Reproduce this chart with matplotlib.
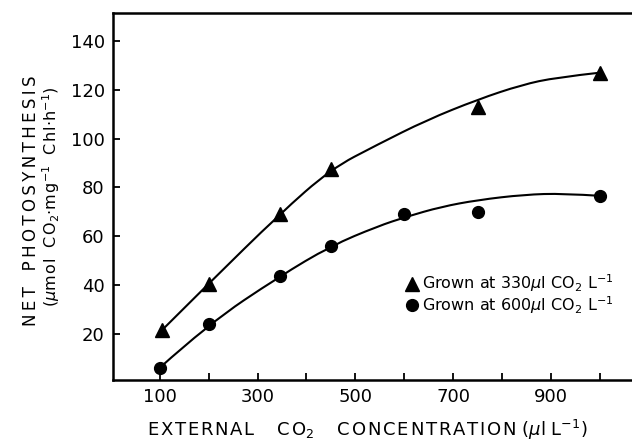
import numpy as np
import matplotlib.pyplot as plt
from matplotlib.path import Path
from matplotlib.patches import PathPatch

# values
x_330 = [105, 200, 345, 450, 750, 1000]
y_330 = [21.5, 40.5, 69, 87.5, 113, 127]

x_600 = [100, 200, 345, 450, 600, 750, 1000]
y_600 = [6, 24, 43.5, 56, 69, 70, 76.5]

# the hand drawn curves, read at a few places
curve_330_x = [105, 200, 345, 450, 545, 645, 750, 840, 910, 1000]
curve_330_y = [21.5, 40.5, 69, 87.5, 97.5, 107.5, 116, 122, 125, 127]
curve_600_x = [100, 200, 345, 450, 545, 605, 675, 750, 845, 925, 1000]
curve_600_y = [6, 24, 43.5, 56, 64, 68, 72, 74.8, 77, 77.5, 76.5]

xticks = list(range(100, 1001, 100))
xlabels = ["100", "", "300", "", "500", "", "700", "", "900", ""]
yticks = [20, 40, 60, 80, 100, 120, 140]

plt.rcParams['font.family'] = ['DejaVu Sans']
plt.rcParams['mathtext.fontset'] = 'dejavusans'

HAIR = '\u200a'
THIN = '\u2009'


def spread(word, sp):
    return sp.join(word)


def smooth_path(xs, ys):
    # quadratic bezier pieces: read points as controls, midpoints as knots
    pts = list(zip(xs, ys))
    verts = [pts[0]]
    codes = [Path.MOVETO]
    for i in range(1, len(pts) - 1):
        nx = (pts[i][0] + pts[i + 1][0]) / 2
        ny = (pts[i][1] + pts[i + 1][1]) / 2
        if i == len(pts) - 2:
            nx, ny = pts[-1]
        verts += [pts[i], (nx, ny)]
        codes += [Path.CURVE3, Path.CURVE3]
    return Path(verts, codes)


fig = plt.figure(figsize=(6.32, 4.43), dpi=100)
ax = fig.add_axes([0.179, 0.142, 0.821, 0.829])

for cx, cy in [(curve_330_x, curve_330_y), (curve_600_x, curve_600_y)]:
    ax.add_patch(PathPatch(smooth_path(cx, cy), fill=False, ec='black',
                           lw=1.5, zorder=2))

ax.plot(x_330, y_330, '^', color='black', ms=10.5, zorder=3,
        label=r'Grown at 330$\mu$l CO$_2$ L$^{-1}$')
ax.plot(x_600, y_600, 'o', color='black', ms=8.5, zorder=3,
        label=r'Grown at 600$\mu$l CO$_2$ L$^{-1}$')

ax.set_xlim(5, 1065)
ax.set_ylim(1, 151.5)
ax.set_xticks(xticks)
ax.set_xticklabels(xlabels)
ax.set_yticks(yticks)
ax.tick_params(direction='in', length=5, width=1.3, labelsize=13, pad=6)
ax.spines['right'].set_visible(False)
for s in ['left', 'bottom', 'top']:
    ax.spines[s].set_linewidth(1.8)

xl = (spread('EXTERNAL', HAIR) + '    C' + HAIR + 'O$_2$    '
      + spread('CONCENTRATION', HAIR) + r' ($\mu$l L$^{-1}$)')
fig.text(0.581, 0.03, xl, ha='center', va='center', fontsize=13)

yl1 = spread('NET', THIN) + '   ' + spread('PHOTOSYNTHESIS', THIN)
fig.text(0.049, 0.547, yl1, rotation=90,
         ha='center', va='center', fontsize=12)
yl2 = ('(' + r'$\mu$' + spread('mol', HAIR) + '  C' + HAIR + 'O$_2$$\\cdot$'
       + 'm' + HAIR + 'g$^{-1}$  C' + HAIR + 'h' + HAIR + 'l$\\cdot$h$^{-1}$)')
fig.text(0.081, 0.555, yl2, rotation=90,
         ha='center', va='center', fontsize=11.5)

ax.legend(loc='upper left', bbox_to_anchor=(0.645, 0.385),
          bbox_transform=fig.transFigure, frameon=False, fontsize=11.5,
          handlelength=0.6, handletextpad=0.3, labelspacing=0.0,
          borderpad=0, borderaxespad=0)

fig.savefig('out.png', dpi=100)
